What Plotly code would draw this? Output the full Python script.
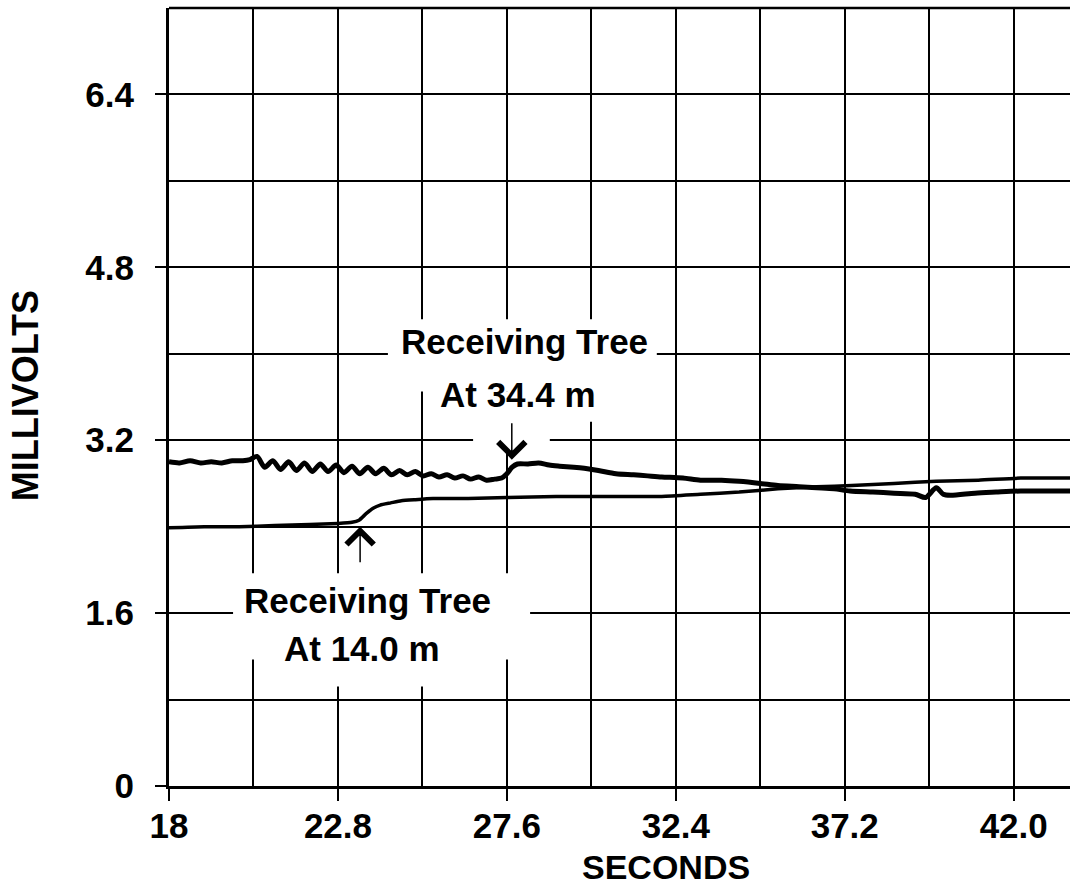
import plotly.graph_objects as go

# ---------------- data ----------------
upper_x = [18.0, 18.3, 18.6, 18.9, 19.2, 19.5, 19.8, 20.1, 20.3, 20.5, 20.72, 20.95, 21.17, 21.4,
           21.62, 21.85, 22.07, 22.3, 22.52, 22.75, 22.97, 23.2, 23.42, 23.65, 23.87, 24.1,
           24.32, 24.55, 24.77, 25.0, 25.22, 25.45, 25.67, 25.9, 26.12, 26.35, 26.57, 26.8,
           27.02, 27.25, 27.45, 27.6, 27.75, 27.9, 28.2, 28.5, 28.8, 29.1, 29.5, 29.8, 30.2,
           30.7, 31.2, 31.6, 32.0, 32.6, 33.1, 33.7, 34.2, 34.8, 35.3, 35.9, 36.4, 36.9, 37.35,
           38.0, 38.6, 39.2, 39.5, 39.8, 40.0, 40.2, 40.9, 41.5, 42.2, 43.0, 43.6]
upper_mv = [3.00, 2.99, 3.01, 2.99, 3.00, 2.99, 3.01, 3.01, 3.02, 3.05, 2.95, 3.01, 2.93, 3.00,
            2.92, 2.99, 2.91, 2.98, 2.91, 2.97, 2.90, 2.96, 2.89, 2.95, 2.89, 2.94,
            2.88, 2.92, 2.88, 2.91, 2.87, 2.89, 2.86, 2.88, 2.85, 2.87, 2.84, 2.86,
            2.83, 2.84, 2.85, 2.89, 2.95, 2.98, 2.98, 2.99, 2.97, 2.96, 2.95, 2.94, 2.92,
            2.89, 2.88, 2.87, 2.86, 2.85, 2.83, 2.83, 2.82, 2.80, 2.78, 2.77, 2.76, 2.75, 2.73,
            2.72, 2.71, 2.70, 2.67, 2.76, 2.70, 2.69, 2.71, 2.72, 2.73, 2.73, 2.73]

lower_x = [18.0, 19.0, 20.0, 21.0, 22.0, 22.8, 23.2, 23.4, 23.6, 23.8, 24.0, 24.3, 24.6, 25.0,
           25.5, 26.5, 27.6, 29.0, 30.5, 32.0, 33.1, 34.2, 35.3, 36.4, 37.4, 38.6, 39.8, 41.0,
           42.2, 43.6]
lower_mv = [2.39, 2.40, 2.40, 2.41, 2.42, 2.43, 2.44, 2.46, 2.52, 2.57, 2.60, 2.62, 2.64, 2.65,
            2.66, 2.66, 2.67, 2.68, 2.68, 2.68, 2.70, 2.72, 2.75, 2.77, 2.78, 2.80, 2.82, 2.83,
            2.85, 2.85]

x_tick_vals = [18, 22.8, 27.6, 32.4, 37.2, 42.0]
x_tick_text = ["18", "22.8", "27.6", "32.4", "37.2", "42.0"]
y_tick_vals = [0, 1.6, 3.2, 4.8, 6.4]
y_tick_text = ["0", "1.6", "3.2", "4.8", "6.4"]
x_grid = [20.4, 25.2, 30.0, 34.8, 39.6]
y_grid = [0.8, 2.4, 4.0, 5.6]

labels = [
    ("Receiving Tree", 28.11, 4.11),
    ("At 34.4 m", 27.91, 3.62),
    ("Receiving Tree", 23.63, 1.72),
    ("At 14.0 m", 23.48, 1.27),
]
arrows = [  # (tip x, tip y, tail offset in px)
    (27.74, 3.02, -38),
    (23.43, 2.40, 37),
]

FONT = "Liberation Sans, Arial, sans-serif"

fig = go.Figure()
fig.add_trace(go.Scatter(x=upper_x, y=upper_mv, mode="lines",
                         line=dict(color="black", width=5, shape="spline", smoothing=0.8),
                         showlegend=False))
fig.add_trace(go.Scatter(x=lower_x, y=lower_mv, mode="lines",
                         line=dict(color="black", width=3.5, shape="spline", smoothing=0.5),
                         showlegend=False))

# white masks behind the labels (between gridlines and traces)
masks = [
    (24.22, 31.86, 3.87, 4.32),
    (24.85, 30.24, 3.65, 3.95),
    (25.41, 30.24, 3.37, 3.65),
    (26.64, 28.82, 3.09, 3.65),
    (19.82, 28.26, 1.49, 1.97),
    (20.16, 27.83, 1.17, 1.54),
    (21.72, 26.55, 0.92, 1.21),
]
for x0, x1, y0, y1 in masks:
    fig.add_shape(type="rect", xref="x", yref="y", x0=x0, x1=x1, y0=y0, y1=y1,
                  fillcolor="white", line=dict(width=0), layer="between")

# top border
fig.add_shape(type="line", xref="paper", yref="paper", x0=0, x1=1, y0=1, y1=1,
              line=dict(color="black", width=2.5))

for text, x, y in labels:
    fig.add_annotation(x=x, y=y, text=text, showarrow=False, xanchor="center", yanchor="middle",
                       font=dict(family=FONT, size=35, color="black", weight="bold"))

for x, y, ay in arrows:
    fig.add_annotation(x=x, y=y, text="", showarrow=True, ax=0, ay=ay,
                       arrowhead=4, arrowwidth=1.5, arrowsize=3.5, arrowcolor="black")

fig.add_annotation(xref="paper", yref="paper", x=-0.1598, y=0.501, text="MILLIVOLTS",
                   textangle=-90, showarrow=False, xanchor="center", yanchor="middle",
                   font=dict(family=FONT, size=36, color="black", weight="bold"))
fig.add_annotation(xref="paper", yref="paper", x=0.5516, y=-0.104, text="SECONDS",
                   showarrow=False, xanchor="center", yanchor="middle",
                   font=dict(family=FONT, size=34, color="black", weight="bold"))

tickfont = dict(family=FONT, size=35, color="black", weight="bold")
fig.update_xaxes(range=[18, 43.6], tickmode="array", tickvals=x_tick_vals, ticktext=x_tick_text,
                 showgrid=True, gridcolor="black", gridwidth=1.5,
                 showline=True, linecolor="black", linewidth=3,
                 ticks="outside", ticklen=12, tickwidth=2, tickcolor="black",
                 ticklabelstandoff=-5, tickfont=tickfont, zeroline=False,
                 minor=dict(tickmode="array", tickvals=x_grid, showgrid=True,
                            gridcolor="black", gridwidth=1.5, ticks=""))
fig.update_yaxes(range=[0, 7.2], tickmode="array", tickvals=y_tick_vals, ticktext=y_tick_text,
                 showgrid=True, gridcolor="black", gridwidth=1.5,
                 showline=True, linecolor="black", linewidth=3,
                 ticks="outside", ticklen=11, tickwidth=2, tickcolor="black",
                 ticklabelstandoff=14, tickfont=tickfont, zeroline=False,
                 minor=dict(tickmode="array", tickvals=y_grid, showgrid=True,
                            gridcolor="black", gridwidth=1.5, ticks=""))

fig.update_layout(width=1070, height=892, autosize=False,
                  margin=dict(l=169, r=0, t=8, b=106, autoexpand=False),
                  paper_bgcolor="white", plot_bgcolor="white",
                  showlegend=False)

fig.write_html("out.html", config={"displayModeBar": False},
               post_script="document.body.style.margin='0';document.body.style.overflow='hidden';")
